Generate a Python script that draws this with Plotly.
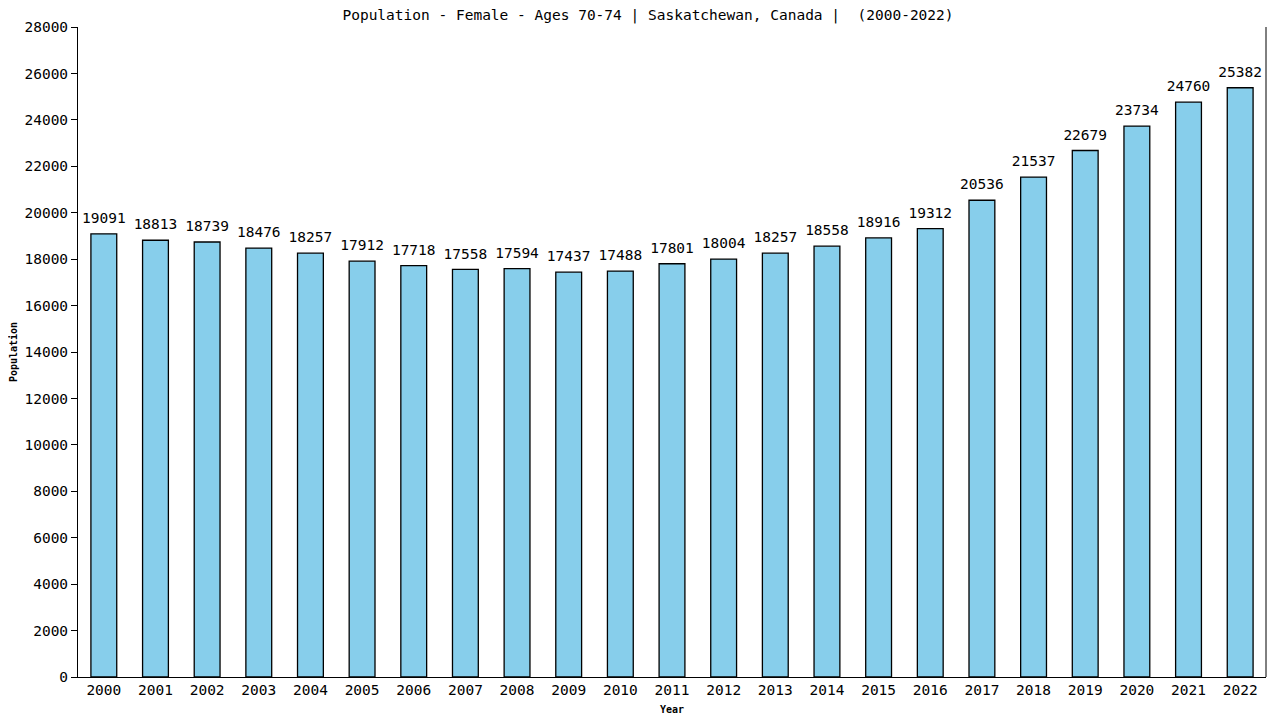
import plotly.graph_objects as go

years = [str(y) for y in range(2000, 2023)]
population = [19091, 18813, 18739, 18476, 18257, 17912, 17718, 17558, 17594, 17437,
              17488, 17801, 18004, 18257, 18558, 18916, 19312, 20536, 21537, 22679,
              23734, 24760, 25382]
y_ticks = list(range(0, 28001, 2000))

fig = go.Figure()
fig.add_trace(go.Bar(
    x=years, y=population,
    width=0.5,
    marker=dict(color="#87CEEB", line=dict(color="black", width=1.3)),
))
# value labels above the bars
fig.add_trace(go.Scatter(
    x=years, y=population,
    mode="markers+text",
    marker=dict(size=10, opacity=0),
    text=[str(v) for v in population],
    textposition="top center",
    textfont=dict(family="DejaVu Sans Mono", size=14.5, color="black"),
    cliponaxis=False,
    hoverinfo="skip",
))

# page body has an 8px margin, so margins are shifted to compensate
fig.update_layout(
    width=1280, height=720,
    margin=dict(l=70, r=22, t=19, b=51),
    plot_bgcolor="white", paper_bgcolor="white",
    showlegend=False,
    title=dict(text="Population - Female - Ages 70-74 | Saskatchewan, Canada |  (2000-2022)",
               x=0.5, xanchor="center", yref="container", y=1 - 7 / 720, yanchor="middle",
               font=dict(family="DejaVu Sans Mono", size=14.5, color="black")),
    font=dict(family="DejaVu Sans Mono", color="black"),
)
fig.update_xaxes(
    type="category", range=[-0.5, 22.5], automargin=False,
    showline=True, linecolor="black", linewidth=1,
    ticks="", tickfont=dict(size=14.5),
    title=dict(text="<b>Year</b>", font=dict(size=10), standoff=8),
    showgrid=False,
)
fig.update_yaxes(
    range=[0, 28000], tickvals=y_ticks, ticktext=[str(v) for v in y_ticks],
    automargin=False,
    showline=True, linecolor="black", linewidth=1,
    ticks="outside", ticklen=6, tickcolor="black",
    tickfont=dict(size=14.5),
    title=dict(text="<b>Population</b>", font=dict(size=10), standoff=4),
    showgrid=False, zeroline=False,
)
fig.add_shape(type="line", xref="paper", yref="paper", x0=1, x1=1, y0=0, y1=1,
              line=dict(color="black", width=1))

fig.write_html("out.html")
